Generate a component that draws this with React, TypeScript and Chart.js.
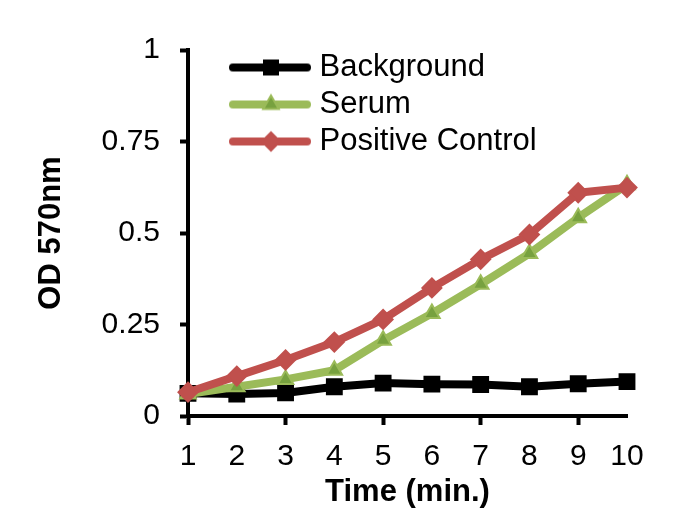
import React, { useEffect, useRef } from "react";
import { Chart, registerables } from "chart.js";

Chart.register(...registerables);

const times = [1, 2, 3, 4, 5, 6, 7, 8, 9, 10];
const background = [0.062, 0.06, 0.063, 0.08, 0.09, 0.087, 0.086, 0.08, 0.088, 0.094];
const serum = [0.06, 0.08, 0.1, 0.125, 0.207, 0.28, 0.36, 0.444, 0.542, 0.632];
const positiveControl = [0.065, 0.109, 0.153, 0.202, 0.264, 0.35, 0.428, 0.496, 0.61, 0.624];
const seriesNames = ["Background", "Serum", "Positive Control"];
const yTickLabels = ["0", "0.25", "0.5", "0.75", "1"];
const xTitle = "Time (min.)";
const yTitle = "OD 570nm";

const FONT = "'Liberation Sans', Arial, sans-serif";
const BLACK = "#000000";
const GREEN = "#9BBB59";
const GREEN_DARK = "#77A13F";
const RED = "#C0504D";

type Marker = "rect" | "triangle" | "rectRot";

function makeLegendImage(line: string, fill: string, border: string, marker: Marker) {
  const c = document.createElement("canvas");
  c.width = 124;
  c.height = 24;
  const g = c.getContext("2d")!;
  const cy = 12;
  g.strokeStyle = line;
  g.lineWidth = 8;
  g.lineCap = "round";
  g.beginPath();
  g.moveTo(46, cy);
  g.lineTo(120, cy);
  g.stroke();
  const cx = 84;
  g.fillStyle = fill;
  g.strokeStyle = border;
  g.lineWidth = 2;
  g.beginPath();
  if (marker === "rect") {
    g.rect(cx - 7, cy - 7, 14, 14);
  } else if (marker === "triangle") {
    const r = 9;
    g.moveTo(cx, cy - r);
    g.lineTo(cx + r * 0.866, cy + r * 0.5);
    g.lineTo(cx - r * 0.866, cy + r * 0.5);
    g.closePath();
  } else {
    const r = 9;
    g.moveTo(cx - r, cy);
    g.lineTo(cx, cy - r);
    g.lineTo(cx + r, cy);
    g.lineTo(cx, cy + r);
    g.closePath();
  }
  g.fill();
  g.stroke();
  return c;
}

// the legend placed in the chart area gets top = 0 from Chart.js; move it to the plot's top
const legendShift = {
  id: "legendShift",
  afterLayout(chart: any) {
    const lg = chart.legend;
    if (lg && chart.chartArea) {
      const h = lg.height;
      lg.top = chart.chartArea.top - 4;
      lg.bottom = lg.top + h;
    }
  },
};

export default function App() {
  const ref = useRef<HTMLCanvasElement | null>(null);

  useEffect(() => {
    if (!ref.current) return;
    const seriesValues = [background, serum, positiveControl];
    const lineColors = [BLACK, GREEN, RED];
    const fills = [BLACK, GREEN_DARK, RED];
    const borders = [BLACK, GREEN, RED];
    const markers: Marker[] = ["rect", "triangle", "rectRot"];
    const radii = [10.5, 9, 9.5];
    const orders = [3, 2, 1];
    const images = seriesNames.map((_, i) => makeLegendImage(lineColors[i], fills[i], borders[i], markers[i]));

    const chart = new Chart(ref.current, {
      type: "line",
      data: {
        datasets: seriesNames.map((name, i) => ({
          label: name,
          data: times.map((t, j) => ({ x: t, y: seriesValues[i][j] })),
          borderColor: lineColors[i],
          backgroundColor: fills[i],
          borderWidth: 8,
          borderJoinStyle: "round" as const,
          borderCapStyle: "round" as const,
          pointStyle: markers[i],
          pointRadius: radii[i],
          pointBackgroundColor: fills[i],
          pointBorderColor: borders[i],
          pointBorderWidth: 2,
          tension: 0,
          clip: false as any,
          order: orders[i],
        })),
      },
      options: {
        animation: false,
        responsive: false,
        events: [],
        layout: { padding: { left: 0, top: 50, right: 61, bottom: 0 } },
        plugins: {
          tooltip: { enabled: false },
          title: { display: false },
          legend: {
            position: "chartArea",
            align: "start",
            labels: {
              usePointStyle: true,
              pointStyleWidth: 110,
              padding: 6,
              color: BLACK,
              font: { family: FONT, size: 31 },
              generateLabels: () =>
                seriesNames.map((name, i) => ({
                  text: name,
                  pointStyle: images[i] as any,
                  fillStyle: "transparent",
                  strokeStyle: "transparent",
                  lineWidth: 0,
                  hidden: false,
                  datasetIndex: i,
                  fontColor: BLACK,
                })),
            },
          },
        },
        scales: {
          x: {
            type: "linear",
            min: times[0],
            max: times[times.length - 1],
            afterFit: (s: any) => {
              s.height = 113;
            },
            border: { display: true, color: BLACK, width: 4 },
            grid: {
              drawOnChartArea: false,
              drawTicks: true,
              tickLength: 9,
              tickWidth: 4,
              tickColor: (ctx: any) =>
                ctx.tick && Math.round(ctx.tick.value) % 2 === 1 ? BLACK : "rgba(0,0,0,0)",
            },
            ticks: {
              stepSize: 1,
              autoSkip: false,
              maxRotation: 0,
              padding: 14,
              color: BLACK,
              font: { family: FONT, size: 30 },
              callback: (v: any) => String(v),
            },
            title: {
              display: true,
              text: xTitle,
              color: BLACK,
              font: { family: FONT, size: 31, weight: "bold" },
              padding: { top: 0, bottom: 18 },
            },
          },
          y: {
            min: 0,
            max: 1,
            afterFit: (s: any) => {
              s.width = 188;
            },
            border: { display: true, color: BLACK, width: 4 },
            grid: {
              drawOnChartArea: false,
              drawTicks: true,
              tickLength: 8,
              tickWidth: 4,
              tickColor: BLACK,
            },
            ticks: {
              stepSize: 0.25,
              padding: 20,
              color: BLACK,
              font: { family: FONT, size: 30 },
              callback: (_v: any, i: number) => yTickLabels[i],
            },
            title: {
              display: true,
              text: yTitle,
              color: BLACK,
              font: { family: FONT, size: 31, weight: "bold" },
              padding: { top: 33, bottom: 0 },
            },
          },
        },
      },
      plugins: [legendShift],
    });
    return () => chart.destroy();
  }, []);

  return (
    <div style={{ position: "absolute", left: 0, top: 0, width: 688, height: 529, background: "#fff" }}>
      <canvas ref={ref} width={688} height={529} style={{ display: "block" }} />
    </div>
  );
}
